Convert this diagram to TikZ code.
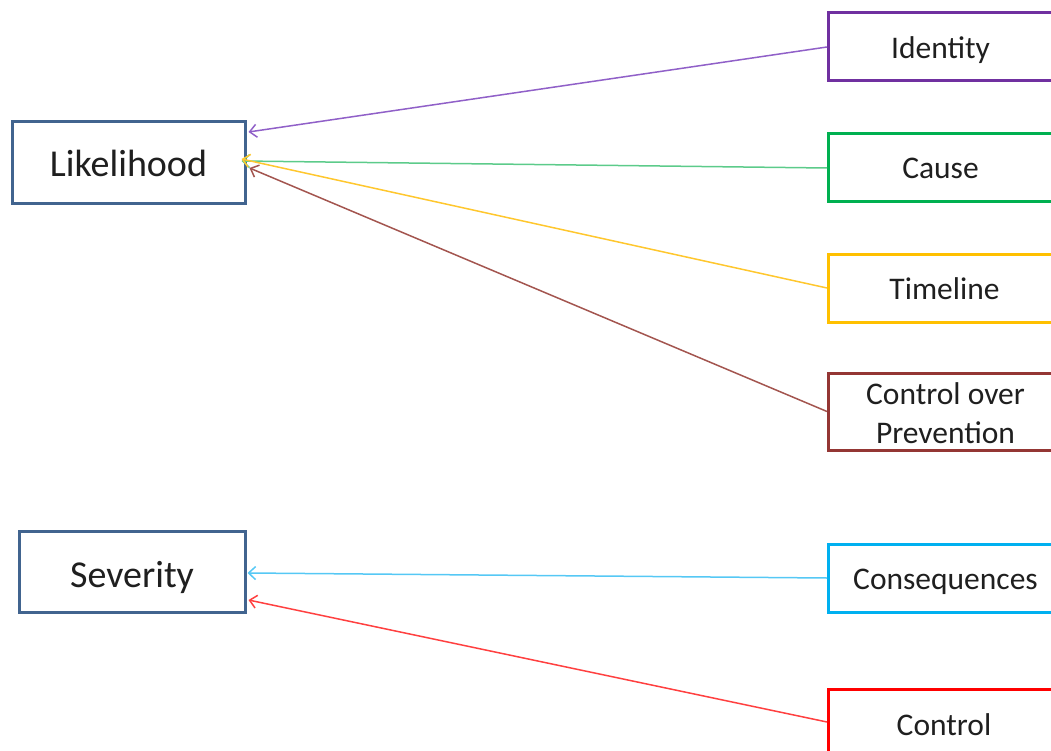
\documentclass[tikz,border=0pt]{standalone}
\usepackage{fontspec}
\setmainfont{Carlito}
\usetikzlibrary{arrows.meta}
\definecolor{navy}{HTML}{41648F}
\definecolor{cpurple}{HTML}{7030A0}
\definecolor{cgreen}{HTML}{00B050}
\definecolor{cyellow}{HTML}{FFC000}
\definecolor{cbrown}{HTML}{943634}
\definecolor{cblue}{HTML}{00B0F0}
\definecolor{cred}{HTML}{FF0000}
\definecolor{lpurple}{HTML}{9060C8}
\definecolor{lgreen}{HTML}{5CCB8A}
\definecolor{lyellow}{HTML}{FFC72E}
\definecolor{lbrown}{HTML}{A3554F}
\definecolor{lblue}{HTML}{55C8F5}
\definecolor{lred}{HTML}{FF4040}
% lower a label inside its box without changing the box size
\newcommand{\lowered}[2]{\raisebox{-#1}[\height][\depth]{#2}}
\begin{document}
\begin{tikzpicture}[x=1pt,y=-1pt,
  mainbox/.style={draw=navy,line width=3pt,fill=white,font=\fontsize{38}{44}\selectfont,text=black!88},
  factor/.style={draw=#1,line width=3pt,fill=white,font=\fontsize{31.5}{39}\selectfont,text=black!88,align=center},
  link/.style={draw=#1,line width=1.5pt,-{Straight Barb[length=7pt,width=13pt,line width=1.5pt]}}]
\useasboundingbox (0,0) rectangle (1051,751);
\clip (0,0) rectangle (1051,751);
% left-hand target boxes
\node[mainbox,minimum width=233pt,minimum height=82pt] (lik) at (128.5,163) {Likelihood};
\node[mainbox,minimum width=226pt,minimum height=81pt] (sev) at (132,571.5) {\lowered{6pt}{Severity}};
% right-hand factor boxes (running past the right edge)
\node[factor=cpurple,minimum width=224pt,minimum height=68pt,anchor=west] (ide) at (827,47) {\lowered{3pt}{Identity}};
\node[factor=cgreen,minimum width=224pt,minimum height=68pt,anchor=west] (cau) at (827,168) {Cause};
\node[factor=cyellow,minimum width=232pt,minimum height=68pt,anchor=west] (tim) at (827,288) {\lowered{1pt}{Timeline}};
\node[factor=cbrown,minimum width=234pt,minimum height=77pt,anchor=west] (cop) at (827,411.5) {\lowered{2pt}{Control over}\\\lowered{2pt}{Prevention}};
\node[factor=cblue,minimum width=234pt,minimum height=68pt,anchor=west] (con) at (827,578) {\lowered{4pt}{Consequences}};
\node[factor=cred,minimum width=234pt,minimum height=90pt,anchor=north west] (ctl) at (827,688) {};
\node[font=\fontsize{31.5}{36}\selectfont,text=black!88] (ctltext) at (944,725) {Control};
% connectors
\draw[link=lpurple] (ide.west) -- ([yshift=31pt,xshift=2pt]lik.east);
\draw[link=lgreen] (cau.west) -- ([yshift=2pt,xshift=-5pt]lik.east);
\draw[link=lbrown] (cop.west) -- ([yshift=-5pt,xshift=3pt]lik.east);
\draw[link=lyellow] (tim.west) -- ([yshift=4pt,xshift=-5pt]lik.east);
\draw[link=lblue] (con.west) -- ([yshift=-1.5pt,xshift=1pt]sev.east);
\draw[link=lred] (ctl.west |- 0,722) -- ([yshift=-28.5pt,xshift=2pt]sev.east);
\end{tikzpicture}
\end{document}
